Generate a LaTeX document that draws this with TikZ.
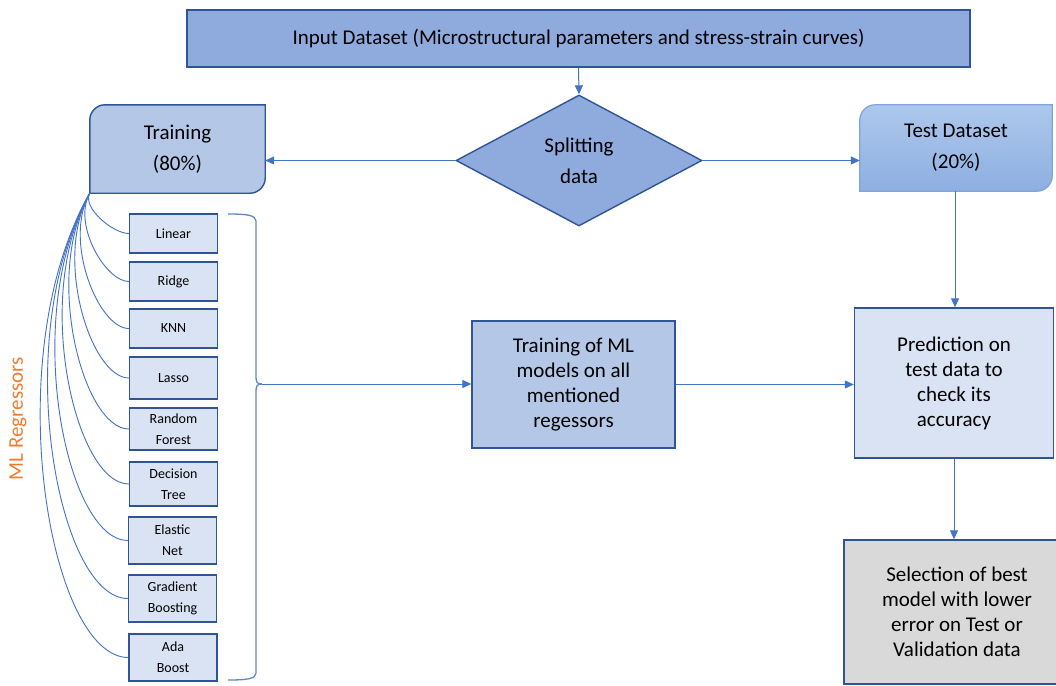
\documentclass[tikz,border=0pt]{standalone}
\usepackage{fontspec}
\setmainfont{Carlito}
\usetikzlibrary{shapes.geometric,arrows.meta,calc}
\definecolor{bord}{HTML}{2F5597}
\definecolor{conn}{HTML}{4472C4}
\definecolor{midblue}{HTML}{8FAADC}
\definecolor{lblue}{HTML}{B4C7E7}
\definecolor{plblue}{HTML}{DAE3F3}
\definecolor{greyf}{HTML}{D9D9D9}
\definecolor{orng}{HTML}{ED7D31}
\definecolor{testtop}{HTML}{ADC8EC}
\definecolor{testbot}{HTML}{8DAFE1}
\definecolor{testbord}{HTML}{7EA6DC}
\pgfdeclarelayer{bg}
\pgfdeclarelayer{paper}
\pgfsetlayers{paper,bg,main}
\newcommand{\twocornerbox}[2]{%
  \draw[#2] (#1.south west) -- ($(#1.north west)+(0,15)$)
    .. controls ($(#1.north west)+(0,7)$) and ($(#1.north west)+(7,0)$) .. ($(#1.north west)+(15,0)$)
    -- (#1.north east) -- ($(#1.south east)+(0,-15)$)
    .. controls ($(#1.south east)+(0,-7)$) and ($(#1.south east)+(-7,0)$) .. ($(#1.south east)+(-15,0)$)
    -- cycle;}
\begin{document}
\begin{tikzpicture}[x=1pt,y=-1pt,
  bigfont/.style={font=\fontsize{21}{31}\selectfont},
  parafont/.style={font=\fontsize{21}{25}\selectfont},
  smallfont/.style={font=\fontsize{14}{21}\selectfont},
  box/.style={draw=bord, line width=1.4pt, rectangle, inner sep=0pt, align=center},
  model/.style={box, fill=plblue, smallfont, minimum width=88pt},
  arr/.style={draw=conn, line width=1pt, -{Triangle[length=9pt,width=8pt]}},
  curve/.style={draw=conn, line width=0.9pt},
  bracestyle/.style={draw=conn!85!white, line width=1.3pt},
  plain/.style={rectangle, inner sep=0pt, align=center},
]
\clip (0,0) rectangle (1056,685);
\begin{pgfonlayer}{paper}
  \fill[white] (0,0) rectangle (1056,685);
\end{pgfonlayer}

% main nodes
\node[box, fill=midblue, bigfont, minimum width=783pt, minimum height=57pt] (input) at (578.5,38.5)
  {Input Dataset (Microstructural parameters and stress-strain curves)};
\node[draw=bord, line width=1.4pt, fill=midblue, diamond, minimum width=246pt, minimum height=131pt,
  inner sep=0pt, align=center, bigfont] (split) at (579,160.5) {Splitting\\data};
\node[plain, minimum width=175pt, minimum height=88pt, bigfont] (train) at (177.5,149) {Training\\(80\%)};
\node[plain, minimum width=192pt, minimum height=86pt, bigfont] (test) at (956,148) {Test Dataset\\(20\%)};
\node[box, fill=lblue, parafont, minimum width=203pt, minimum height=127pt] (mltrain) at (573.5,384.5)
  {Training of ML\\models on all\\mentioned\\regessors};
\node[box, fill=plblue, parafont, minimum width=199pt, minimum height=150pt] (pred) at (954,383)
  {Prediction on\\test data to\\check its\\accuracy};
\node[box, fill=greyf, parafont, minimum width=226pt, minimum height=144pt] (sel) at (957,612)
  {Selection of best\\model with lower\\error on Test or\\Validation data};

\begin{pgfonlayer}{bg}
  \twocornerbox{train}{draw=bord, line width=1.4pt, fill=lblue}
  \twocornerbox{test}{draw=testbord, line width=1.2pt, top color=testtop, bottom color=testbot}
\end{pgfonlayer}

% model boxes
\node[model, minimum height=39pt] (m1) at (173.5,233.5) {Linear};
\node[model, minimum height=39pt] (m2) at (173.5,281.5) {Ridge};
\node[model, minimum height=39pt] (m3) at (173.5,328.5) {KNN};
\node[model, minimum height=42pt] (m4) at (173.5,378) {Lasso};
\node[model, minimum height=42pt] (m5) at (173.5,429) {Random\\Forest};
\node[model, minimum height=44pt] (m6) at (173.5,484) {Decision\\Tree};
\node[model, minimum height=47pt] (m7) at (172.5,540.5) {Elastic\\Net};
\node[model, minimum height=47pt] (m8) at (172.5,598.5) {Gradient\\Boosting};
\node[model, minimum height=47pt] (m9) at (173,657.5) {Ada\\Boost};

\node[rotate=90, text=orng, bigfont] (mlreg) at (18,418.5) {ML Regressors};

% curved connectors from Training to each model
\foreach \m in {1,...,9}{
  \draw[curve] let \p1=(train.south west), \p2=(m\m.west), \n1={\y1-\y2} in
    (\p1) .. controls (\x1-0.2*\n1,\y1-0.35*\n1) and (\x2-0.15*\n1-10pt,\y2) .. (\p2);
}

% brace
\coordinate (bt) at (262,384);
\draw[bracestyle] (228,214) .. controls (246,214) and (256,215) .. (256,221) -- (256,377)
  .. controls (256,382) and (257,384) .. (bt);
\draw[bracestyle] (228,680) .. controls (246,680) and (256,679) .. (256,673) -- (256,391)
  .. controls (256,386) and (257,384) .. (bt);

% arrows
\draw[arr] (input.south) -- (split.north);
\draw[arr] (split.west) -- (split.west -| train.east);
\draw[arr] (split.east) -- (split.east -| test.west);
\draw[arr] ([xshift=-1pt]test.south) -- ([xshift=-1pt]test.south |- pred.north);
\draw[arr] (pred.south) -- (pred.south |- sel.north);
\draw[arr] (bt) -- (bt -| mltrain.west);
\draw[arr] (mltrain.east) -- (mltrain.east -| pred.west);
\end{tikzpicture}
\end{document}
